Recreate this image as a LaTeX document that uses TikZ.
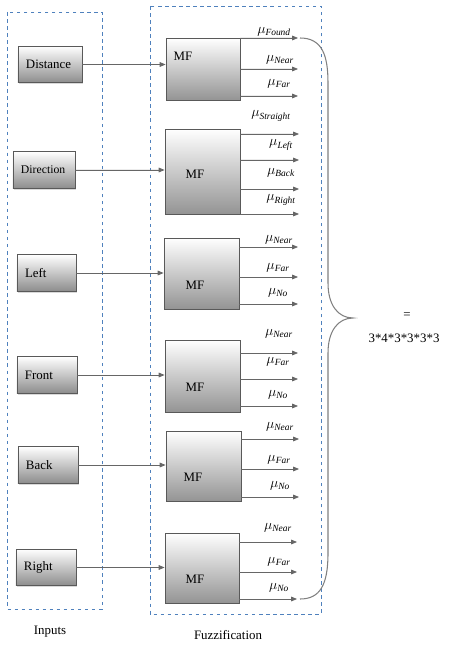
\documentclass[tikz,border=0pt]{standalone}
\usepackage{fontspec}
\setmainfont{Liberation Serif}
\usetikzlibrary{arrows.meta,shadows}
\definecolor{dashblue}{HTML}{4F81BD}
\definecolor{boxgray}{HTML}{595959}
\definecolor{arrowgray}{HTML}{666666}
\tikzset{
  groupbox/.style={draw=dashblue,dashed,line width=0.6pt},
  grouplabel/.style={font=\fontsize{11}{13}\selectfont},
  inbox/.style={draw=boxgray,line width=0.7pt,top color=white,bottom color=black!45,
    drop shadow={shadow xshift=1.2pt,shadow yshift=-1.2pt,opacity=0.3},
    minimum height=1.1cm,inner xsep=0.24cm,align=left,font=\fontsize{11}{13}\selectfont},
  mfbox/.style={draw=boxgray,line width=0.7pt,top color=white,bottom color=black!42,
    drop shadow={shadow xshift=1.2pt,shadow yshift=-1.2pt,opacity=0.3}},
  mftext/.style={font=\fontsize{11}{13}\selectfont,inner sep=0pt},
  mulabel/.style={font=\fontsize{11.5}{13}\selectfont,inner sep=0pt},
  inarrow/.style={->,draw=arrowgray,fill=arrowgray,line width=0.7pt},
  outarrow/.style={->,draw=arrowgray,fill=arrowgray,line width=0.7pt},
  bracepath/.style={draw=black!50,line width=0.9pt},
  resulttext/.style={font=\fontsize{11}{13}\selectfont,inner sep=0pt}
}

\begin{document}
\begin{tikzpicture}[x=0.03cm,y=-0.03cm,>={Triangle[length=5pt,width=4pt]}]
  \useasboundingbox (0,0) rectangle (454,653);
  % dashed groups
  \draw[groupbox] (7,12) rectangle (102,609);
  \draw[groupbox] (150,6) rectangle (321,614);
  \node[grouplabel] (inputs) at (50,632) {Inputs};
  \node[grouplabel] (fuzz) at (228,635) {Fuzzification};
  % inputs
  \node[inbox,text width=1.44cm] (dist) at (50,64.5) {Distance};
  \node[inbox,text width=1.38cm,font=\fontsize{10}{12}\selectfont] (dir) at (44,170) {Direction};
  \node[inbox,text width=1.29cm] (left) at (46.5,273) {Left};
  \node[inbox,text width=1.32cm] (front) at (47,375) {Front};
  \node[inbox,text width=1.32cm] (back) at (48,465) {Back};
  \node[inbox,text width=1.32cm] (right) at (46,567.5) {Right};
  % membership function boxes
  \node[mfbox,minimum width=2.22cm,minimum height=1.86cm] (mf1) at (203,69) {};
  \node[mftext] (mf1t) at (183,56) {MF};
  \node[mfbox,minimum width=2.25cm,minimum height=2.55cm] (mf2) at (202.5,171.5) {};
  \node[mftext] (mf2t) at (195,174) {MF};
  \node[mfbox,minimum width=2.25cm,minimum height=2.13cm] (mf3) at (201.5,273.5) {};
  \node[mftext] (mf3t) at (195,285) {MF};
  \node[mfbox,minimum width=2.25cm,minimum height=2.16cm] (mf4) at (202.5,376) {};
  \node[mftext] (mf4t) at (195,387) {MF};
  \node[mfbox,minimum width=2.25cm,minimum height=2.1cm] (mf5) at (203.5,466) {};
  \node[mftext] (mf5t) at (193,477) {MF};
  \node[mfbox,minimum width=2.22cm,minimum height=2.1cm] (mf6) at (202,568) {};
  \node[mftext] (mf6t) at (195,579) {MF};
  % input arrows
  \draw[inarrow] (dist.east) -- (dist.east -| mf1.west);
  \draw[inarrow] (dir.east) -- (dir.east -| mf2.west);
  \draw[inarrow] (left.east) -- (left.east -| mf3.west);
  \draw[inarrow] (front.east) -- (front.east -| mf4.west);
  \draw[inarrow] (back.east) -- (back.east -| mf5.west);
  \draw[inarrow] (right.east) -- (right.east -| mf6.west);
  % output ends
  \coordinate (o11) at (298,38);
  \coordinate (o12) at (298,69);
  \coordinate (o13) at (298,96);
  \coordinate (o21) at (299,134);
  \coordinate (o22) at (299,160);
  \coordinate (o23) at (299,189);
  \coordinate (o24) at (299,214);
  \coordinate (o31) at (298,247);
  \coordinate (o32) at (298,277);
  \coordinate (o33) at (298,304);
  \coordinate (o41) at (298,353);
  \coordinate (o42) at (298,379);
  \coordinate (o43) at (298,406);
  \coordinate (o51) at (299,439);
  \coordinate (o52) at (299,469);
  \coordinate (o53) at (299,497);
  \coordinate (o61) at (297,542);
  \coordinate (o62) at (297,572);
  \coordinate (o63) at (297,599);
  % output arrows
  \draw[outarrow] (mf1.east |- o11) -- (o11);
  \draw[outarrow] (mf1.east |- o12) -- (o12);
  \draw[outarrow] (mf1.east |- o13) -- (o13);
  \draw[outarrow] (mf2.east |- o21) -- (o21);
  \draw[outarrow] (mf2.east |- o22) -- (o22);
  \draw[outarrow] (mf2.east |- o23) -- (o23);
  \draw[outarrow] (mf2.east |- o24) -- (o24);
  \draw[outarrow] (mf3.east |- o31) -- (o31);
  \draw[outarrow] (mf3.east |- o32) -- (o32);
  \draw[outarrow] (mf3.east |- o33) -- (o33);
  \draw[outarrow] (mf4.east |- o41) -- (o41);
  \draw[outarrow] (mf4.east |- o42) -- (o42);
  \draw[outarrow] (mf4.east |- o43) -- (o43);
  \draw[outarrow] (mf5.east |- o51) -- (o51);
  \draw[outarrow] (mf5.east |- o52) -- (o52);
  \draw[outarrow] (mf5.east |- o53) -- (o53);
  \draw[outarrow] (mf6.east |- o61) -- (o61);
  \draw[outarrow] (mf6.east |- o62) -- (o62);
  \draw[outarrow] (mf6.east |- o63) -- (o63);
  % labels
  \node[mulabel] (m11) at (274,32) {$\mu_{\mathit{Found}}$};
  \node[mulabel] (m12) at (280,60) {$\mu_{\mathit{Near}}$};
  \node[mulabel] (m13) at (279,84) {$\mu_{\mathit{Far}}$};
  \node[mulabel] (m21) at (271,116) {$\mu_{\mathit{Straight}}$};
  \node[mulabel] (m22) at (281,145) {$\mu_{\mathit{Left}}$};
  \node[mulabel] (m23) at (281,173) {$\mu_{\mathit{Back}}$};
  \node[mulabel] (m24) at (281,200) {$\mu_{\mathit{Right}}$};
  \node[mulabel] (m31) at (279,240) {$\mu_{\mathit{Near}}$};
  \node[mulabel] (m32) at (278,268) {$\mu_{\mathit{Far}}$};
  \node[mulabel] (m33) at (278,293) {$\mu_{\mathit{No}}$};
  \node[mulabel] (m41) at (279,334) {$\mu_{\mathit{Near}}$};
  \node[mulabel] (m42) at (278,362) {$\mu_{\mathit{Far}}$};
  \node[mulabel] (m43) at (278,395) {$\mu_{\mathit{No}}$};
  \node[mulabel] (m51) at (280,427) {$\mu_{\mathit{Near}}$};
  \node[mulabel] (m52) at (279,460) {$\mu_{\mathit{Far}}$};
  \node[mulabel] (m53) at (280,486) {$\mu_{\mathit{No}}$};
  \node[mulabel] (m61) at (278,528) {$\mu_{\mathit{Near}}$};
  \node[mulabel] (m62) at (279,562) {$\mu_{\mathit{Far}}$};
  \node[mulabel] (m63) at (279,588) {$\mu_{\mathit{No}}$};
  % brace and result
  \draw[bracepath] (300,38) .. controls (322,38) and (328,55) .. (328,83) -- (328,283)
    .. controls (328,305) and (338,318) .. (353,318)
    .. controls (338,318) and (328,331) .. (328,353) -- (328,553)
    .. controls (328,585) and (320,599) .. (300,599);
  \node[resulttext] (eq) at (407,316) {=};
  \node[resulttext] (prod) at (404,338) {3*4*3*3*3*3};
\end{tikzpicture}
\end{document}
